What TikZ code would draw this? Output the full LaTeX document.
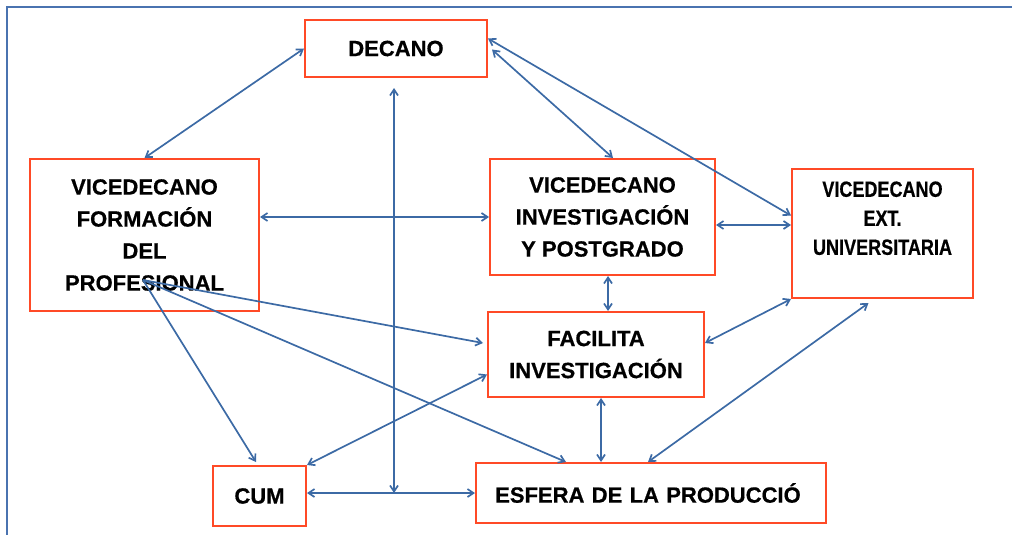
\documentclass[tikz,border=0pt]{standalone}
\usepackage{fontspec}
\setmainfont{Liberation Sans}[BoldFeatures={FakeBold=0.6}]
\usetikzlibrary{arrows.meta,calc}
\definecolor{boxred}{HTML}{FF4A26}
\definecolor{arrblue}{HTML}{3C6AA5}
\definecolor{frameblue}{HTML}{4A73B0}
\begin{document}
\begin{tikzpicture}[x=1pt,y=-1pt,
  orgbox/.style={draw=boxred,line width=2pt,inner sep=0pt,align=center,
    font=\fontsize{22}{32}\selectfont\bfseries,text=black},
  plaintxt/.style={inner sep=0pt,align=center,font=\fontsize{22}{29}\selectfont\bfseries,text=black},
  link/.style={draw=arrblue,line width=1.7pt,
    {Straight Barb[length=6pt,width=8pt]}-{Straight Barb[length=6pt,width=8pt]}},
  oneway/.style={draw=arrblue,line width=1.7pt,-{Straight Barb[length=6pt,width=8pt]}}]
\useasboundingbox (0,0) rectangle (1012,535);
\draw[frameblue,line width=2pt] (7,7) rectangle (1040,560);

\node[orgbox,minimum width=182pt,minimum height=57pt] (dec) at (396,48.5) {DECANO};
\node[orgbox,minimum width=229pt,minimum height=152pt] (vfp) at (144.5,235) {VICEDECANO\\FORMACIÓN\\DEL\\PROFESIONAL};
\node[orgbox,minimum width=225pt,minimum height=116pt] (vip) at (602.5,217) {VICEDECANO\\INVESTIGACIÓN\\Y POSTGRADO};
\node[orgbox,minimum width=181pt,minimum height=129pt] (veu) at (882.5,233.5) {};
\node[plaintxt] (veutxt) at (882.5,220) {\scalebox{0.82}[1]{\begin{tabular}{@{}c@{}}VICEDECANO\\EXT.\\UNIVERSITARIA\end{tabular}}};
\node[orgbox,minimum width=216pt,minimum height=85pt] (fac) at (596,354.5) {FACILITA\\INVESTIGACIÓN};
\node[orgbox,minimum width=350pt,minimum height=60pt,text width=350pt] (esf) at (651,493) {\hspace*{-6pt}ESFERA DE LA PRODUCCIÓ};
\node[orgbox,minimum width=93pt,minimum height=60pt] (cum) at (259.5,496) {CUM};

\draw[link] (dec.west) -- (vfp.north);
\draw[link] ([xshift=4pt,yshift=-1pt]dec.east) -- ([xshift=10.5pt]vip.north);
\draw[link] ([yshift=10pt]dec.east) -- ([yshift=18pt]veu.west);
\draw[link] (vip.west -| vfp.east) -- (vip.west);
\coordinate (top) at ([xshift=-2pt,yshift=-10pt]dec.south);
\coordinate (junc) at (top |- esf.west);
\draw[link] (top) -- (junc);
\draw[link] (cum.east |- esf.west) -- (esf.west);
\draw[link] ([yshift=-8pt]vip.east) -- ([yshift=-8pt]vip.east -| veu.west);
\draw[link] ([xshift=5.5pt]vip.south) -- ([xshift=5.5pt]vip.south |- fac.north);
\draw[link] ([yshift=11.5pt]fac.east) -- (veu.south west);
\draw[link] ([xshift=-3pt]esf.north) -- ([xshift=-14pt,yshift=-4pt]veu.south);
\draw[link] ([xshift=5pt]fac.south) -- ([xshift=5pt]fac.south |- esf.north);
\coordinate (src) at (143,280);
\draw[oneway] (src) -- ([xshift=-4pt,yshift=11.5pt]fac.west);
\draw[oneway] (src) -- ([xshift=-3.5pt,yshift=3pt]cum.north);
\draw[oneway] (src) -- ([xshift=-85pt]esf.north);
\draw[link] (cum.north east) -- ([yshift=-20pt]fac.west);
\end{tikzpicture}
\end{document}
